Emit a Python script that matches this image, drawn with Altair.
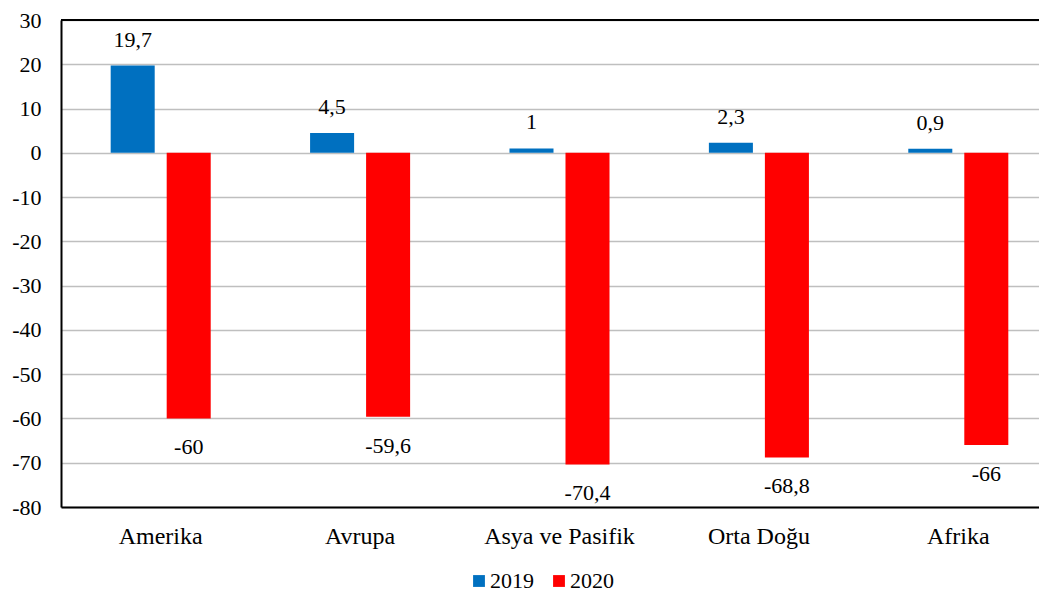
import altair as alt
import pandas as pd

regions = ["Amerika", "Avrupa", "Asya ve Pasifik", "Orta Doğu", "Afrika"]
v2019 = [19.7, 4.5, 1, 2.3, 0.9]
v2020 = [-60, -59.6, -70.4, -68.8, -66]
years = ["2019", "2020"]
colors = ["#0070C0", "#FF0000"]
y_ticks = list(range(-80, 31, 10))

rows = []
for r, a, b in zip(regions, v2019, v2020):
    rows.append({"bolge": r, "yil": years[0], "deger": a})
    rows.append({"bolge": r, "yil": years[1], "deger": b})
df = pd.DataFrame(rows)
df["etiket"] = df["deger"].map(lambda v: f"{v:g}".replace(".", ","))

FONT = "Liberation Serif, Times New Roman, serif"
W = 978
H = 487

x_enc = alt.X("bolge:N", sort=regions, title=None,
              scale=alt.Scale(paddingInner=0, paddingOuter=0, range=[0, 997]),
              axis=alt.Axis(labelAngle=0, labelFont=FONT, labelFontSize=24,
                            labelColor="#000", ticks=False, labelPadding=17,
                            domainColor="#000", domainWidth=2))
xo_enc = alt.XOffset("yil:N", sort=years,
                     scale=alt.Scale(paddingInner=0.214, paddingOuter=0.887))
y_scale = alt.Scale(domain=[-80, 30], nice=False, zero=False)

base = alt.Chart(df)

bars = base.mark_bar().encode(
    x=x_enc,
    xOffset=xo_enc,
    y=alt.Y("deger:Q", scale=y_scale, title=None,
            axis=alt.Axis(values=y_ticks, labelFont=FONT, labelFontSize=22,
                          labelColor="#000", ticks=False, labelPadding=20,
                          labelExpr="datum.value + ''",
                          grid=True, gridColor="#BFBFBF", gridWidth=1.5,
                          domainColor="#000", domainWidth=2)),
    color=alt.Color("yil:N", sort=years,
                    scale=alt.Scale(domain=years, range=colors),
                    legend=alt.Legend(title=None, orient="none", direction="horizontal",
                                      legendX=407, legendY=550,
                                      symbolType="square", symbolSize=140,
                                      symbolStrokeWidth=0,
                                      labelFont=FONT, labelFontSize=22,
                                      labelColor="#000", labelOffset=0,
                                      columnPadding=14)),
)

pos_labels = base.transform_filter(alt.datum.yil == years[0]).mark_text(
    font=FONT, fontSize=22, color="#000", baseline="middle", dy=-26
).encode(x=x_enc, xOffset=xo_enc, y=alt.Y("deger:Q", scale=y_scale), text="etiket:N")

neg_labels = base.transform_filter(alt.datum.yil == years[1]).mark_text(
    font=FONT, fontSize=22, color="#000", baseline="middle", dy=29
).encode(x=x_enc, xOffset=xo_enc, y=alt.Y("deger:Q", scale=y_scale), text="etiket:N")

top_border = alt.Chart(pd.DataFrame({"k": [0]})).mark_rule(
    color="#000", strokeWidth=2
).encode(y=alt.value(0), x=alt.value(0), x2=alt.value(W))

chart = alt.layer(bars, pos_labels, neg_labels, top_border).properties(
    width=W, height=H,
    autosize=alt.AutoSizeParams(type="none"),
    padding={"left": 53, "top": 12, "right": 0, "bottom": 88},
).configure_view(strokeWidth=0).configure(background="white")

chart.save("out.html", embed_options={"renderer": "svg", "actions": False})
